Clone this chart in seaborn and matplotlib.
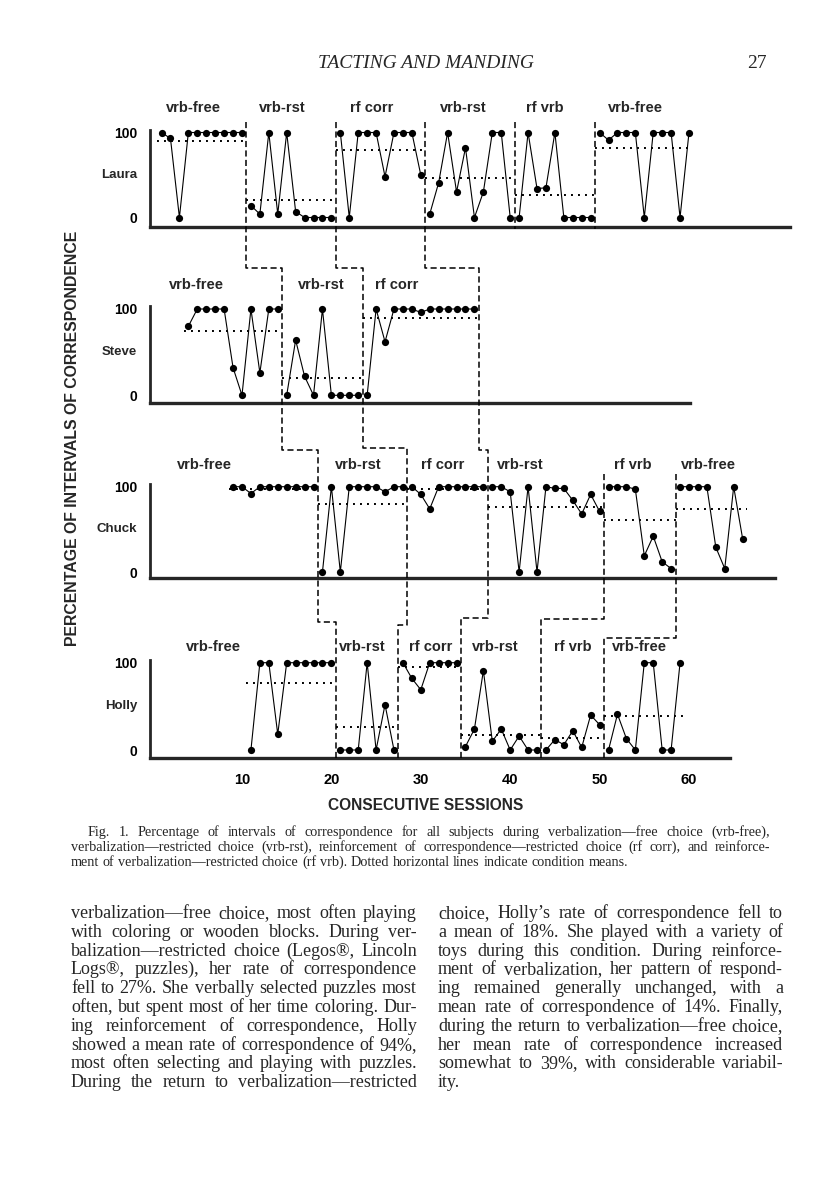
import numpy as np
import pandas as pd
import matplotlib.pyplot as plt
import matplotlib.transforms as mtransforms
from matplotlib.lines import Line2D
import seaborn as sns

# -----------------------------
# 1. DATA
# -----------------------------
laura_conditions = ["vrb-free", "vrb-rst", "rf corr", "vrb-rst", "rf vrb", "vrb-free"]
laura_first_session = 1
laura_values = [
    [100, 93, 0, 100, 100, 100, 100, 100, 100, 100],
    [14, 4, 100, 4, 100, 7, 0, 0, 0, 0],
    [100, 0, 100, 100, 100, 48, 100, 100, 100, 50],
    [4, 41, 100, 30, 82, 0, 30, 100, 100, 0],
    [0, 100, 34, 35, 100, 0, 0, 0, 0],
    [100, 91, 100, 100, 100, 0, 100, 100, 100, 0, 100],
]
laura_means = [90, 21, 79, 47, 27, 82]
laura_label_x = [4.6, 14.5, 24.5, 34.8, 43.9, 54.0]

steve_conditions = ["vrb-free", "vrb-rst", "rf corr"]
steve_first_session = 4
steve_values = [
    [80, 100, 100, 100, 100, 32, 0, 100, 26, 100, 100],
    [0, 64, 22, 0, 100, 0, 0, 0, 0],
    [0, 100, 62, 100, 100, 100, 96, 100, 100, 100, 100, 100, 100],
]
steve_means = [75, 20, 89]
steve_label_x = [4.9, 18.9, 27.3]

chuck_conditions = ["vrb-free", "vrb-rst", "rf corr", "vrb-rst", "rf vrb", "vrb-free"]
chuck_first_session = 9
chuck_values = [
    [100, 100, 92, 100, 100, 100, 100, 100, 100, 100],
    [0, 100, 0, 100, 100, 100, 100, 94, 100, 100],
    [100, 91, 74, 100, 100, 100, 100, 100, 100],
    [100, 100, 94, 0, 100, 0, 100, 98, 98, 84, 68, 91, 71],
    [100, 100, 100, 97, 19, 42, 12, 4],
    [100, 100, 100, 100, 29, 4, 100, 39],
]
chuck_means = [97, 80, 97, 76, 61, 74]
chuck_label_x = [5.8, 23.0, 32.5, 41.1, 53.7, 62.2]

holly_conditions = ["vrb-free", "vrb-rst", "rf corr", "vrb-rst", "rf vrb", "vrb-free"]
holly_first_session = 11
holly_values = [
    [0, 100, 100, 18, 100, 100, 100, 100, 100, 100],
    [0, 0, 0, 100, 0, 52, 0],
    [100, 82, 69, 100, 100, 100, 100],
    [4, 24, 91, 10, 24, 0, 16, 0, 0],
    [0, 12, 6, 22, 3, 40, 29],
    [0, 41, 13, 0, 100, 100, 0, 0, 100],
]
holly_means = [77, 26, 95, 17, 14, 39]
holly_label_x = [6.8, 23.5, 31.1, 38.3, 47.0, 54.5]

session_ticks = [10, 20, 30, 40, 50, 60]

header_title = "TACTING AND MANDING"
page_number = "27"
y_title = "PERCENTAGE OF INTERVALS OF CORRESPONDENCE"
x_title = "CONSECUTIVE SESSIONS"

caption_lines = [
    "Fig. 1.  Percentage of intervals of correspondence for all subjects during verbalization\u2014free choice (vrb-free),",
    "verbalization\u2014restricted choice (vrb-rst), reinforcement of correspondence\u2014restricted choice (rf corr), and reinforce-",
    "ment of verbalization\u2014restricted choice (rf vrb). Dotted horizontal lines indicate condition means.",
]

left_column = [
    "verbalization\u2014free choice, most often playing",
    "with coloring or wooden blocks. During ver-",
    "balization\u2014restricted choice (Legos\u00ae, Lincoln",
    "Logs\u00ae, puzzles), her rate of correspondence",
    "fell to 27%. She verbally selected puzzles most",
    "often, but spent most of her time coloring. Dur-",
    "ing reinforcement of correspondence, Holly",
    "showed a mean rate of correspondence of 94%,",
    "most often selecting and playing with puzzles.",
    "During the return to verbalization\u2014restricted",
]
right_column = [
    "choice, Holly\u2019s rate of correspondence fell to",
    "a mean of 18%. She played with a variety of",
    "toys during this condition. During reinforce-",
    "ment of verbalization, her pattern of respond-",
    "ing remained generally unchanged, with a",
    "mean rate of correspondence of 14%. Finally,",
    "during the return to verbalization\u2014free choice,",
    "her mean rate of correspondence increased",
    "somewhat to 39%, with considerable variabil-",
    "ity.",
]

# -----------------------------
# 2. PAGE LAYOUT (pixels)
# -----------------------------
sns.set_style("white")
plt.rcParams["font.family"] = ["Liberation Sans", "DejaVu Sans"]

W, H = 816, 1200
fig = plt.figure(figsize=(W / 100, H / 100), dpi=100)


def fx(px):
    return px / W


def fy(px):
    return 1 - px / H


X_LEFT, X_RIGHT = 150, 790
PX_PER_SESSION = 8.94
XMIN = -0.29
XMAX = XMIN + (X_RIGHT - X_LEFT) / PX_PER_SESSION

# name, first session, values, means, label x, conditions,
# y of 100, y of 0, axis y, axis right end, condition label y
panels = [
    ("Laura", laura_first_session, laura_values, laura_means, laura_label_x, laura_conditions,
     132.5, 217.5, 227, 790, 108),
    ("Steve", steve_first_session, steve_values, steve_means, steve_label_x, steve_conditions,
     309, 395.3, 403, 690, 285),
    ("Chuck", chuck_first_session, chuck_values, chuck_means, chuck_label_x, chuck_conditions,
     486.7, 572, 578, 775, 465),
    ("Holly", holly_first_session, holly_values, holly_means, holly_label_x, holly_conditions,
     662.7, 750, 758, 730, 647),
]

boundaries = {}
axes = {}

for (name, first, values, means, label_x, conds,
     y100, y0, axis_px, axis_end, label_y) in panels:
    k = (y0 - y100) / 100
    top_px = y100 - 14
    ax = fig.add_axes([fx(X_LEFT), fy(axis_px), fx(X_RIGHT) - fx(X_LEFT), (axis_px - top_px) / H])
    ax.set_xlim(XMIN, XMAX)
    ax.set_ylim(-(axis_px - y0) / k, 100 + (y100 - top_px) / k)
    ax.patch.set_alpha(0)
    axes[name] = ax

    rows = []
    s = first
    bnds = []
    for i, vals in enumerate(values):
        start = s
        for v in vals:
            rows.append({"session": s, "pct": v, "phase": i})
            s += 1
        bnds.append(s - 0.5)
        # condition mean
        ax.plot([start - 0.5, s - 0.5], [means[i], means[i]], color="black",
                linestyle=(0, (1, 2.6)), linewidth=1.4, solid_capstyle="butt")
    boundaries[name] = bnds
    df = pd.DataFrame(rows)

    sns.lineplot(data=df, x="session", y="pct", units="phase", estimator=None,
                 color="black", linewidth=0.8, marker="o", markersize=5.2,
                 markeredgewidth=0, ax=ax, legend=False)
    for line in ax.lines:
        line.set_clip_on(False)

    sns.despine(ax=ax)
    ax.spines["left"].set_linewidth(2.0)
    ax.spines["bottom"].set_linewidth(2.4)
    ax.spines["left"].set_bounds(ax.get_ylim()[0], 103)
    axis_end_session = XMIN + (axis_end - X_LEFT) / PX_PER_SESSION
    ax.spines["bottom"].set_bounds(XMIN, axis_end_session)

    ax.set_yticks([0, 100])
    ax.set_yticklabels(["0", "100"], fontweight="bold", fontsize=10)
    ax.tick_params(axis="y", direction="out", length=6, width=1.8, pad=3, colors="black")
    ax.set_xlabel("")
    ax.set_ylabel("")

    if name == "Holly":
        ax.set_xticks(session_ticks)
        ax.set_xticklabels([str(t) for t in session_ticks], fontweight="bold", fontsize=10.5)
        ax.tick_params(axis="x", direction="out", length=6, width=1.5, pad=5, colors="black")
    else:
        ax.set_xticks([])

    # subject name
    name_tr = mtransforms.blended_transform_factory(fig.transFigure, ax.transData)
    ax.text(fx(137), 50, name, transform=name_tr, ha="right", va="center",
            fontsize=9.5, fontweight="bold")

    # condition labels
    lab_tr = mtransforms.blended_transform_factory(ax.transData, fig.transFigure)
    for cx, cond in zip(label_x, conds):
        ax.text(cx, fy(label_y), cond, transform=lab_tr, ha="center", va="center",
                fontsize=10.5, fontweight="bold")

# -----------------------------
# 3. PHASE-CHANGE LINES (staircase across baselines)
# -----------------------------
tr = mtransforms.blended_transform_factory(axes["Laura"].transData, fig.transFigure)
dash = dict(color="black", linewidth=1.1, linestyle=(0, (4, 2.2)))

L, S, C, Hb = boundaries["Laura"], boundaries["Steve"], boundaries["Chuck"], boundaries["Holly"]
jog_ls = 268
jog_sc = [450, 448, 450]
jog_ch = [622, 625, 618, 619, 638]
top_laura = 122
top_chuck = 474
bottom_holly = 758

for i in range(3):
    xs = [L[i], L[i], S[i], S[i], C[i], C[i], Hb[i], Hb[i]]
    ys = [top_laura, jog_ls, jog_ls, jog_sc[i], jog_sc[i], jog_ch[i], jog_ch[i], bottom_holly]
    fig.add_artist(Line2D(xs, [fy(p) for p in ys], transform=tr, **dash))

for i in range(3, 5):
    fig.add_artist(Line2D([L[i], L[i]], [fy(top_laura), fy(229)], transform=tr, **dash))
    xs = [C[i], C[i], Hb[i], Hb[i]]
    ys = [top_chuck, jog_ch[i], jog_ch[i], bottom_holly]
    fig.add_artist(Line2D(xs, [fy(p) for p in ys], transform=tr, **dash))

# -----------------------------
# 4. AXIS TITLES AND PAGE TEXT
# -----------------------------
fig.text(fx(73), fy(438), y_title, rotation=90, ha="center", va="center",
         fontsize=11.4, fontweight="bold")
fig.text(fx(426), fy(806), x_title, ha="center", va="center",
         fontsize=11.2, fontweight="bold")

serif = ["Liberation Serif", "DejaVu Serif"]
fig.text(fx(426), fy(68), header_title, ha="center", va="baseline",
         family=serif, fontstyle="italic", fontsize=14)
fig.text(fx(757), fy(68), page_number, ha="center", va="baseline",
         family=serif, fontsize=14)

renderer = fig.canvas.get_renderer()


def justified(line, x0, x1, base, size, justify=True):
    words = line.split()
    texts = [fig.text(0, fy(base), w, ha="left", va="baseline", family=serif,
                      fontsize=size) for w in words]
    widths = [t.get_window_extent(renderer).width for t in texts]
    if justify and len(words) > 1:
        gap = (x1 - x0 - sum(widths)) / (len(words) - 1)
    else:
        gap = texts[0].get_fontsize() * 100 / 72 * 0.25
    x = x0
    for t, w in zip(texts, widths):
        t.set_x(fx(x))
        x += w + gap


justified(caption_lines[0], 88, 770, 836, 10.2)
justified(caption_lines[1], 71, 770, 851, 10.2)
justified(caption_lines[2], 71, 770, 866, 10.2, justify=False)

for i, line in enumerate(left_column):
    justified(line, 71, 417, 918 + 18.8 * i, 13)
for i, line in enumerate(right_column):
    justified(line, 438, 783, 918 + 18.8 * i, 13, justify=(i < len(right_column) - 1))

fig.savefig("out.png", dpi=100)
